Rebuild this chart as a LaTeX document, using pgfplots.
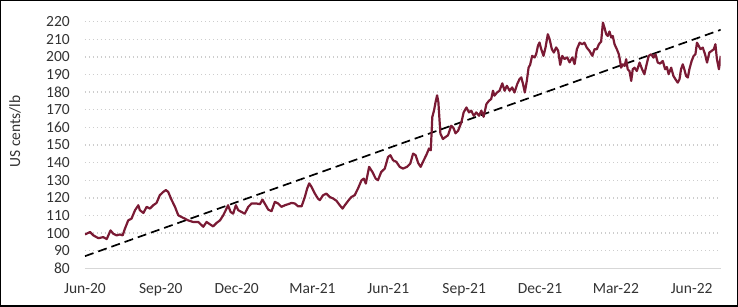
\documentclass[border=0pt]{standalone}
\usepackage{pgfplots}
\pgfplotsset{compat=1.18}
\usepackage{fontspec}
\setmainfont{Carlito}
\definecolor{maroon}{RGB}{122,26,52}
\definecolor{gridgray}{RGB}{205,205,205}
\definecolor{basegray}{RGB}{215,215,215}
\begin{document}
\begin{tikzpicture}
\begin{axis}[
  scale only axis,
  width=635.7pt, height=246.6pt,
  xmin=0, xmax=25.15, ymin=80, ymax=220,
  xtick={0,3,6,9,12,15,18,21,24},
  xticklabels={Jun-20,Sep-20,Dec-20,Mar-21,Jun-21,Sep-21,Dec-21,Mar-22,Jun-22},
  ytick={80,90,...,220},
  major tick length=0pt,
  axis x line*=bottom, axis y line*=left,
  y axis line style={draw=none},
  x axis line style={draw=basegray, line width=1.3pt, -},
  ymajorgrids,
  grid style={draw=gridgray, line width=1.4pt, dash pattern=on 1.4pt off 2.6pt},
  /pgf/number format/assume math mode=true,
  ticklabel style={font=\fontsize{15.5}{16}\selectfont, text=black!80, inner sep=0pt},
  yticklabel style={anchor=east, xshift=-15pt},
  xticklabel style={anchor=north, yshift=-15pt},
  ylabel={US cents/lb},
  every axis y label/.style={at={(axis description cs:-0.110,0.555)}, rotate=90, anchor=center, font=\fontsize{15.5}{16}\selectfont, text=black!80},
  clip=true,
]
\addplot[black, line width=1.7pt, dash pattern=on 9pt off 5pt] coordinates {(0,86.9) (25.15,215.4)};
\addplot[maroon, line width=2.2pt, line join=round] coordinates {
(0.00,99.2)(0.20,100.6)(0.33,98.7)(0.53,97.1)(0.72,97.7)(0.86,96.6)(1.01,101.5)(1.12,99.6)(1.25,98.7)(1.38,99.2)(1.49,98.7)(1.58,102.5)(1.71,107.2)(1.84,108.2)(1.98,113)(2.11,115.8)(2.17,113)(2.31,111.4)(2.44,114.9)(2.57,113.9)(2.70,115.8)(2.83,117.1)(2.96,121.5)(3.10,123.4)(3.20,124.4)(3.29,123.4)(3.43,118.7)(3.56,114.9)(3.69,110.1)(3.82,109.1)(3.95,108.2)(4.08,107.2)(4.28,106.3)(4.48,106.3)
(4.68,103.6)(4.81,106.3)(4.94,105)(5.07,103.8)(5.20,105.7)(5.34,107.2)(5.47,110.1)(5.60,113.9)(5.66,115.8)(5.76,112)(5.86,111)(5.97,115.8)(6.06,113)(6.19,112)(6.32,111)(6.46,114.9)(6.59,116.8)(6.78,116.8)(6.92,116.4)(7.02,119)(7.11,116.8)(7.25,113.3)(7.38,112.4)(7.51,117.7)(7.64,116.8)(7.77,114.9)(7.91,115.8)(8.04,116.4)(8.17,117.1)(8.30,116.8)(8.43,115.2)(8.57,115.2)(8.70,120.6)(8.79,125.3)(8.87,128.2)(8.96,126.3)(9.09,122.5)(9.22,119.5)
(9.29,118.7)(9.42,121.5)(9.55,122.4)(9.68,120.5)(9.82,119.6)(9.95,118.3)(10.08,115.8)(10.19,113.9)(10.28,115.8)(10.41,118.3)(10.54,120.5)(10.67,121.5)(10.80,125.3)(10.94,130)(11.03,130.9)(11.11,128.1)(11.24,137.6)(11.37,134.7)(11.50,130.9)(11.59,130)(11.72,134.7)(11.86,136.6)(11.99,143.2)(12.08,144.2)(12.19,141.3)(12.32,140.4)(12.45,137.6)(12.58,136.6)(12.74,137.6)(12.87,139.5)(12.98,145.1)(13.08,144.2)(13.18,139.8)(13.28,137.6)(13.40,141.3)(13.50,144.2)(13.61,148)(13.68,147)(13.74,165.9)(13.81,169.7)(13.87,174.4)(13.93,178.2)(13.98,174.4)(14.06,156.5)
(14.16,153.4)(14.27,154.6)(14.36,155.5)(14.49,160.9)(14.58,159.6)(14.66,156.6)(14.76,158.1)(14.89,162.8)(14.98,168.5)(15.09,171.3)(15.19,168.5)(15.28,169.5)(15.38,166.6)(15.48,168.5)(15.59,166.6)(15.68,169.5)(15.77,166)(15.88,173.2)(15.98,175.1)(16.07,176.1)(16.14,180.8)(16.20,178)(16.30,179.8)(16.40,180.8)(16.51,185)(16.60,180.8)(16.69,183.6)(16.80,180.8)(16.90,182.7)(16.99,179.8)(17.10,184.6)(17.19,187.4)(17.26,188.4)(17.33,184.6)(17.40,179.8)(17.48,186.5)(17.55,194)(17.61,195.5)(17.69,200.6)(17.79,199.7)(17.85,201.6)(17.92,206.3)(17.98,208.2)(18.05,204.4)(18.14,200.6)(18.22,205.4)(18.31,212.9)(18.38,210.1)(18.47,204.4)(18.55,202.5)(18.64,205.4)(18.72,203.5)(18.80,195.5)(18.88,200.6)(18.97,198.8)(19.08,199.7)(19.17,196.9)(19.28,199.7)(19.37,195.9)(19.46,204.4)(19.57,208.1)
(19.67,207.2)(19.76,208.1)(19.85,205.3)(19.96,203.4)(20.07,200.6)(20.16,204.4)(20.25,204.4)(20.33,207.2)(20.42,208.7)(20.49,219.5)(20.55,216.7)(20.62,212.9)(20.68,211.9)(20.75,214.4)(20.82,211)(20.88,211.9)(20.95,207.2)(21.04,204.4)(21.12,201.5)(21.17,197.7)(21.21,193.9)(21.28,195.8)(21.35,194.9)(21.41,198.7)(21.47,193)(21.54,192)(21.61,186.4)(21.67,193)(21.74,193.9)(21.83,192)(21.94,196.8)(22.04,193)(22.13,190.2)(22.22,195.8)(22.30,200.6)(22.40,201.5)(22.49,199.6)(22.57,201.5)(22.66,196.8)(22.75,196.2)(22.86,197.7)(22.95,193)(23.02,194.3)(23.09,190.2)(23.19,193.9)(23.28,189.2)(23.36,187.3)(23.45,185.4)(23.52,187.3)(23.58,193)(23.65,195.8)(23.71,193)(23.78,189.2)(23.85,188.3)(23.91,193)(24.00,197.7)(24.08,200.6)(24.15,201.5)(24.21,208.1)(24.28,206.3)(24.35,204.4)(24.44,205.3)(24.53,201.5)(24.61,196.8)(24.70,202.5)(24.79,203.4)(24.88,204.4)(24.94,207.2)(25.00,198.7)(25.08,193)(25.15,200.6)
};
\end{axis}
\draw[black, line width=1.5pt] (-84.25pt,-37.95pt) rectangle (652.25pt,267.55pt);
\end{tikzpicture}
\end{document}
